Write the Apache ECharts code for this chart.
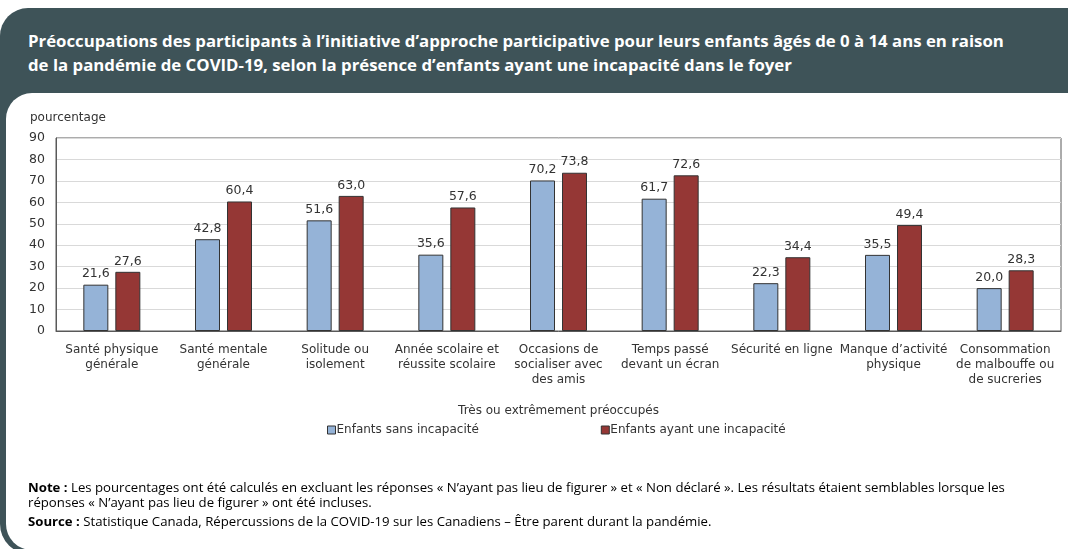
<!DOCTYPE html>
<html lang="fr">
<head>
<meta charset="utf-8">
<title>Préoccupations des participants</title>
<script src="https://cdn.jsdelivr.net/npm/echarts@6/dist/echarts.min.js"></script>
<style>
  html, body { margin: 0; padding: 0; background: #ffffff; }
  body { width: 1068px; height: 549px; position: relative; overflow: hidden; }
  .panel {
    position: absolute; left: 0; top: 8px; width: 1100px; height: 546px;
    background: #3e5358; border-radius: 28px 28px 0 30px;
  }
  .inner {
    position: absolute; left: 6px; top: 93px; width: 1100px; height: 457px;
    background: #ffffff; border-radius: 26px 26px 0 26px;
  }
  .heading {
    position: absolute; left: 28px; top: 29px; width: 1000px;
    color: #ffffff; font-family: "Open Sans", sans-serif; font-weight: 700;
    font-size: 16.8px; line-height: 24px;
  }
  .notes {
    position: absolute; left: 28px; top: 480px; width: 1012px;
    color: #000000; font-family: "Open Sans", sans-serif;
    font-size: 13.2px; line-height: 15px;
  }
  .notes p { margin: 0 0 4px 0; }
  #chart { position: absolute; left: 0; top: 0; width: 1068px; height: 549px; }
</style>
</head>
<body>
<div class="panel"></div>
<div class="inner"></div>
<div class="heading">Préoccupations des participants à l’initiative d’approche participative pour leurs enfants âgés de 0 à 14 ans en raison de la pandémie de COVID-19, selon la présence d’enfants ayant une incapacité dans le foyer</div>
<div id="chart"></div>
<div class="notes">
  <p><b>Note :</b> Les pourcentages ont été calculés en excluant les réponses « N’ayant pas lieu de figurer » et « Non déclaré ». Les résultats étaient semblables lorsque les réponses « N’ayant pas lieu de figurer » ont été incluses.</p>
  <p><b>Source :</b> Statistique Canada, Répercussions de la COVID-19 sur les Canadiens – Être parent durant la pandémie.</p>
</div>
<script>
// Concern categories (x axis)
const categories = [
  'Santé physique\ngénérale',
  'Santé mentale\ngénérale',
  'Solitude ou\nisolement',
  'Année scolaire et\nréussite scolaire',
  'Occasions de\nsocialiser avec\ndes amis',
  'Temps passé\ndevant un écran',
  'Sécurité en ligne',
  'Manque d’activité\nphysique',
  'Consommation\nde malbouffe ou\nde sucreries'
];
// Share of parents very or extremely concerned (%)
const sansIncapacite = [21.6, 42.8, 51.6, 35.6, 70.2, 61.7, 22.3, 35.5, 20.0];
const avecIncapacite = [27.6, 60.4, 63.0, 57.6, 73.8, 72.6, 34.4, 49.4, 28.3];
const seriesNames = ['Enfants sans incapacité', 'Enfants ayant une incapacité'];
const yTicks = { min: 0, max: 90, interval: 10 };

const FONT = 'DejaVu Sans, Verdana, sans-serif';
const fmt = p => p.value.toFixed(1).replace('.', ',');

const chart = echarts.init(document.getElementById('chart'), null, { renderer: 'canvas' });
chart.setOption({
  backgroundColor: 'transparent',
  animation: false,
  textStyle: { fontFamily: FONT, color: '#333333' },
  grid: {
    left: 56, right: 7, top: 138, bottom: 218,
    show: true, borderColor: '#595959', borderWidth: 1, backgroundColor: 'transparent'
  },
  graphic: [{
    type: 'text', left: 30, top: 112,
    style: { text: 'pourcentage', font: '12px ' + FONT, fill: '#333333' }
  }],
  legend: {
    data: seriesNames,
    left: 322, top: 419,
    icon: 'rect', itemWidth: 8, itemHeight: 8, itemGap: 122,
    textStyle: { fontFamily: FONT, fontSize: 12, color: '#333333', padding: [0, 0, 0, -4] },
    itemStyle: { borderColor: '#333333', borderWidth: 1 }
  },
  xAxis: {
    type: 'category',
    data: categories,
    name: 'Très ou extrêmement préoccupés',
    nameLocation: 'middle',
    nameGap: 74,
    nameTextStyle: { fontFamily: FONT, fontSize: 12, color: '#333333' },
    axisLine: { show: true, lineStyle: { color: '#595959' } },
    axisTick: { show: false },
    axisLabel: {
      interval: 0, margin: 11, fontFamily: FONT, fontSize: 12, color: '#333333', lineHeight: 15
    }
  },
  yAxis: {
    type: 'value',
    min: yTicks.min, max: yTicks.max, interval: yTicks.interval,
    axisLine: { show: true, lineStyle: { color: '#595959' } },
    axisTick: { show: false },
    axisLabel: { fontFamily: FONT, fontSize: 12.5, color: '#333333', margin: 11 },
    splitLine: { lineStyle: { color: '#d9d9d9', width: 1 } }
  },
  series: [
    {
      name: seriesNames[0], type: 'bar', data: sansIncapacite,
      barWidth: 25, barGap: '28%',
      itemStyle: { color: '#95b3d7', borderColor: '#333333', borderWidth: 1 },
      label: { show: true, position: 'top', distance: 4, formatter: fmt,
               fontFamily: FONT, fontSize: 12.5, color: '#333333' }
    },
    {
      name: seriesNames[1], type: 'bar', data: avecIncapacite,
      barWidth: 25,
      itemStyle: { color: '#953735', borderColor: '#333333', borderWidth: 1 },
      label: { show: true, position: 'top', distance: 4, formatter: fmt,
               fontFamily: FONT, fontSize: 12.5, color: '#333333' }
    }
  ]
});
</script>
</body>
</html>
